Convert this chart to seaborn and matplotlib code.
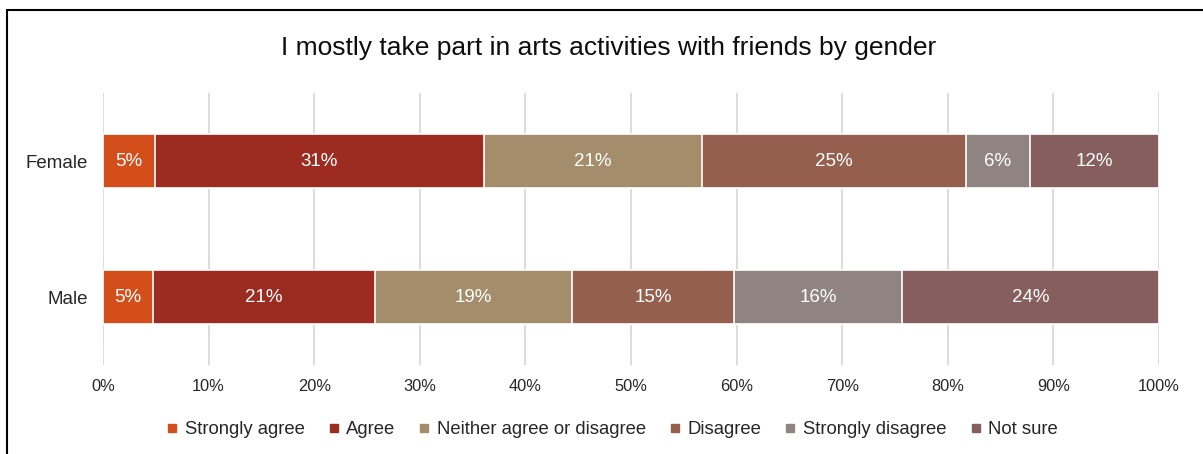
import numpy as np
import pandas as pd
import seaborn as sns
import matplotlib.pyplot as plt
from matplotlib.lines import Line2D

# 응답 데이터 (퍼센트)
genders = ["Female", "Male"]
responses = ["Strongly agree", "Agree", "Neither agree or disagree",
             "Disagree", "Strongly disagree", "Not sure"]
female = [4.9, 31.2, 20.6, 25.0, 6.1, 12.2]
male = [4.7, 21.1, 18.6, 15.4, 15.9, 24.3]
colors = ["#D34E1B", "#9C2C20", "#A38D6A", "#955F4E", "#8F8482", "#855E5D"]
x_ticks = [0, 10, 20, 30, 40, 50, 60, 70, 80, 90, 100]


def set_config():
    sns.set_theme(style="white")
    plt.rcParams["font.family"] = ["Liberation Sans", "DejaVu Sans"]


def main():
    set_config()
    df = pd.DataFrame({"Female": female, "Male": male}, index=responses).T
    cum = df.cumsum(axis=1)

    fig = plt.figure(figsize=(12.03, 4.54), dpi=100)
    ax = fig.add_axes([103 / 1203, 1 - 365 / 454, (1159 - 103) / 1203, (365 - 93) / 454])

    # 누적값을 뒤에서부터 그려서 쌓인 막대처럼 보이게 함
    for i in range(len(responses) - 1, -1, -1):
        d = pd.DataFrame({"gender": genders, "value": cum[responses[i]].values})
        sns.barplot(data=d, x="value", y="gender", orient="h", color=colors[i],
                    width=0.4, edgecolor="white", linewidth=1.2, saturation=1,
                    ax=ax, zorder=2)

    for gi, g in enumerate(genders):
        start = 0
        for r in responses:
            v = df.loc[g, r]
            ax.text(start + v / 2, gi, f"{round(v):.0f}%", ha="center", va="center",
                    color="white", fontsize=13.5, zorder=3)
            start += v

    ax.set_xlim(0, 100)
    ax.set_ylim(1.5, -0.5)
    ax.set_xticks(x_ticks)
    ax.set_xticklabels([f"{t}%" for t in x_ticks], fontsize=11.8, color="#262626")
    ax.tick_params(axis="y", labelsize=13.5, labelcolor="#262626", length=0, pad=11)
    ax.tick_params(axis="x", length=0, pad=10)
    ax.set_xlabel("")
    ax.set_ylabel("")
    ax.grid(axis="x", color="#D9D9D9", linewidth=1.3, zorder=0)
    ax.set_axisbelow(True)
    for s in ax.spines.values():
        s.set_visible(False)

    fig.text(609 / 1203, 1 - 48 / 454, "I mostly take part in arts activities with friends by gender",
             ha="center", va="center", fontsize=19, color="#0D0D0D")

    handles = [Line2D([0], [0], marker="s", linestyle="", markersize=6,
                      markerfacecolor=c, markeredgecolor=c) for c in colors]
    fig.legend(handles, responses, loc="center", bbox_to_anchor=(611 / 1203, 1 - 430 / 454),
               ncol=6, frameon=False, fontsize=13.3, handletextpad=0.25,
               columnspacing=1.1, handlelength=0.9)

    # 그림 테두리 (왼쪽, 위)
    fig.add_artist(Line2D([7 / 1203, 7 / 1203], [0, 1 - 10 / 454], color="black",
                          linewidth=1.5, transform=fig.transFigure))
    fig.add_artist(Line2D([7 / 1203, 1], [1 - 10 / 454, 1 - 10 / 454], color="black",
                          linewidth=1.5, transform=fig.transFigure))

    fig.savefig("out.png", dpi=100)


if __name__ == "__main__":
    main()
